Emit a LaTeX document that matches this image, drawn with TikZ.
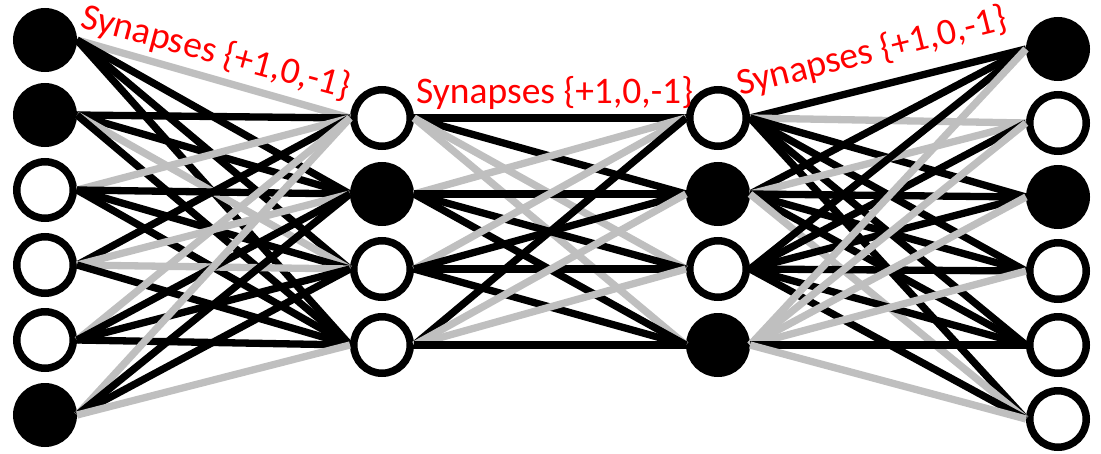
\documentclass[tikz,border=0pt]{standalone}
\usepackage{fontspec}
\newfontfamily\synfont{Carlito}
\definecolor{syngray}{RGB}{191,191,191}
\begin{document}
\begin{tikzpicture}[x=1pt,y=-1pt,
  neuron/.style={circle, draw=black, line width=7.5pt, minimum size=56.5pt, inner sep=0pt},
  syn/.style={line width=7.3pt},
  lbl/.style={text=red, font=\synfont\fontsize{37.5}{42}\selectfont, inner sep=0pt}]
\useasboundingbox (0,0) rectangle (1101,453);

% neuron layers
\foreach \y/\f [count=\i] in {40/black,115/black,190/white,265/white,340/white,415/black}
  \node[neuron, fill=\f] (a\i) at (45,\y) {};
\foreach \y/\f [count=\i] in {118/white,194/black,269/white,345/white}
  \node[neuron, fill=\f] (b\i) at (382,\y) {};
\foreach \y/\f [count=\i] in {118/white,194/black,269/white,345/black}
  \node[neuron, fill=\f] (c\i) at (718,\y) {};
\foreach \y/\f [count=\i] in {49/black,123/white,197/black,271/white,345/white,419/white}
  \node[neuron, fill=\f] (d\i) at (1058,\y) {};

% synapses, layer 1 -> layer 2
\foreach \i/\j/\c in {
  1/1/syngray,1/2/black,1/3/black,1/4/black,
  2/1/black,2/2/black,2/3/syngray,2/4/black,
  3/1/syngray,3/2/black,3/3/black,3/4/black,
  4/1/black,4/2/syngray,4/3/syngray,4/4/black,
  5/1/syngray,5/2/black,5/3/black,5/4/black,
  6/1/syngray,6/2/black,6/3/black,6/4/syngray}
  \draw[syn, draw=\c] (a\i.east) -- (b\j.west);

% synapses, layer 2 -> layer 3
\foreach \i/\j/\c in {
  1/1/black,1/2/black,1/3/syngray,1/4/syngray,
  2/1/syngray,2/2/black,2/3/black,2/4/black,
  3/1/syngray,3/2/black,3/3/black,3/4/black,
  4/1/black,4/2/syngray,4/3/syngray,4/4/black}
  \draw[syn, draw=\c] (b\i.east) -- (c\j.west);

% synapses, layer 3 -> layer 4
\foreach \i/\j/\c in {
  1/1/black,1/2/syngray,1/3/black,1/4/black,1/5/black,1/6/black,
  2/1/black,2/2/syngray,2/3/black,2/4/black,2/5/black,2/6/syngray,
  3/1/black,3/2/black,3/3/black,3/4/black,3/5/black,3/6/black,
  4/1/syngray,4/2/syngray,4/3/syngray,4/4/syngray,4/5/black,4/6/syngray}
  \draw[syn, draw=\c] (c\i.east) -- (d\j.west);

% labels
\node[lbl, anchor=base west, rotate=-15] (l1) at (79,27) {Synapses \{+1,0,-1\}};
\node[lbl, anchor=base west] (l2) at (416,103) {Synapses \{+1,0,-1\}};
\node[lbl, anchor=base west, rotate=14] (l3) at (740,96) {Synapses \{+1,0,-1\}};
\end{tikzpicture}
\end{document}
